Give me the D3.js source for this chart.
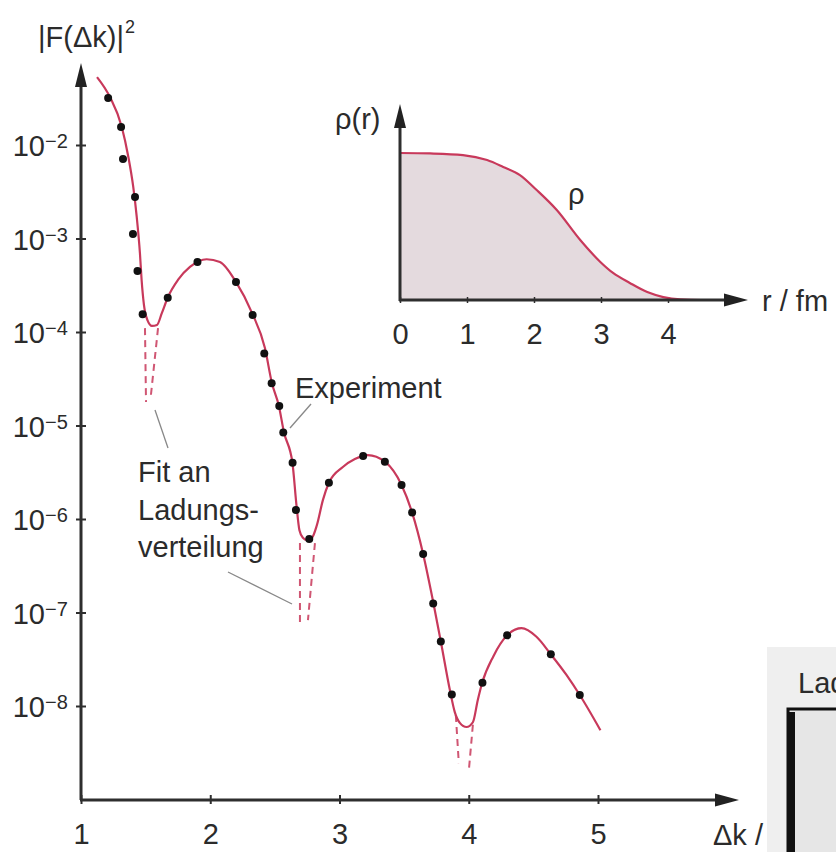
<!DOCTYPE html>
<html>
<head>
<meta charset="utf-8">
<script src="https://cdn.jsdelivr.net/npm/d3@7"></script>
<style>
body { margin: 0; background: #fff; }
text { font-family: "Liberation Sans", Arial, sans-serif; fill: #2b2b2b; }
</style>
</head>
<body>
<svg id="chart" width="836" height="852"></svg>
<script>
// measured points (Δk, |F|^2)
var dotK = [1.21, 1.31, 1.325, 1.418, 1.402, 1.437, 1.477, 1.671, 1.901, 2.199, 2.328,
  2.418, 2.475, 2.534, 2.565, 2.637, 2.663, 2.766, 2.918, 3.183, 3.351, 3.48, 3.562,
  3.647, 3.725, 3.784, 3.869, 4.106, 4.297, 4.635, 4.859];
var dotF = [3.18e-2, 1.56e-2, 7.1e-3, 2.78e-3, 1.12e-3, 4.5e-4, 1.55e-4, 2.33e-4, 5.6e-4,
  3.43e-4, 1.52e-4, 5.9e-5, 2.83e-5, 1.62e-5, 8.4e-6, 4.0e-6, 1.25e-6, 6.1e-7, 2.44e-6,
  4.72e-6, 4.1e-6, 2.31e-6, 1.17e-6, 4.23e-7, 1.25e-7, 4.9e-8, 1.33e-8, 1.77e-8, 5.7e-8,
  3.57e-8, 1.31e-8];

// solid curve
var curveK = [1.124, 1.224, 1.315, 1.366, 1.404, 1.431, 1.456, 1.469, 1.487, 1.514, 1.549,
  1.588, 1.626, 1.673, 1.75, 1.843, 1.972, 2.075, 2.199, 2.323, 2.423, 2.477, 2.531, 2.57,
  2.636, 2.667, 2.69, 2.717, 2.748, 2.787, 2.825, 2.872, 2.918, 3.026, 3.119, 3.219, 3.351,
  3.48, 3.562, 3.647, 3.722, 3.784, 3.854, 3.892, 3.931, 3.983, 4.032, 4.07, 4.104, 4.189,
  4.297, 4.408, 4.524, 4.635, 4.756, 4.859, 5.019];
var curveF = [5.33e-2, 3.26e-2, 1.57e-2, 7.5e-3, 3.58e-3, 1.71e-3, 6.95e-4, 3.6e-4, 1.95e-4,
  1.34e-4, 1.16e-4, 1.19e-4, 1.6e-4, 2.37e-4, 3.6e-4, 4.96e-4, 6.0e-4, 5.61e-4, 3.43e-4,
  1.6e-4, 6.74e-5, 2.85e-5, 1.62e-5, 8.5e-6, 3.97e-6, 1.41e-6, 7.6e-7, 6.3e-7, 5.96e-7,
  6.3e-7, 8.6e-7, 1.6e-6, 2.44e-6, 3.6e-6, 4.38e-6, 4.83e-6, 4.1e-6, 2.31e-6, 1.17e-6,
  4.23e-7, 1.36e-7, 4.9e-8, 1.48e-8, 8.6e-9, 6.6e-9, 5.96e-9, 6.7e-9, 1.16e-8, 1.77e-8,
  3.37e-8, 5.7e-8, 6.8e-8, 5.5e-8, 3.57e-8, 2.15e-8, 1.31e-8, 5.5e-9];

// dashed fit branches at the minima: [start, end]
var dipK = [[1.495, 1.503], [1.596, 1.541], [2.694, 2.694], [2.81, 2.756], [3.9, 3.923], [4.032, 4.001]];
var dipF = [[1.1e-4, 1.78e-5], [1.1e-4, 2.12e-5], [5.53e-7, 7.7e-8], [5.53e-7, 8.3e-8], [8.0e-9, 2.45e-9], [6.3e-9, 2.07e-9]];

var xTicks = [1, 2, 3, 4, 5];
var yTicks = [1e-2, 1e-3, 1e-4, 1e-5, 1e-6, 1e-7, 1e-8];
var yTickExp = ["−2", "−3", "−4", "−5", "−6", "−7", "−8"];

// inset charge density
var rhoR = [0, 0.45, 0.94, 1.3, 1.54, 1.79, 2.04, 2.34, 2.69, 2.99, 3.18, 3.43, 3.69, 3.93, 4.18, 4.5, 4.7];
var rhoV = [1, 0.997, 0.986, 0.952, 0.905, 0.85, 0.748, 0.612, 0.408, 0.259, 0.184, 0.116, 0.054, 0.02, 0.004, 0, 0];
var rTicks = [0, 1, 2, 3, 4];

var red = "#c8395b", ink = "#2e2e2e";
var svg = d3.select("#chart");

function arrow(g, x, y, dir, len, half) {
  var p = dir === "up"
    ? [[x, y], [x - half, y + len], [x + half, y + len]]
    : [[x, y], [x - len, y - half], [x - len, y + half]];
  g.append("path").attr("d", "M" + p.join("L") + "Z").attr("fill", "#222");
}

// ---- main chart ----
var x = d3.scaleLinear().domain([1, 5]).range([81, 598]);
var y = d3.scaleLog().domain([1e-2, 1e-8]).range([145, 706]);
var main = svg.append("g");

var xAxis = main.append("g").attr("transform", "translate(0,795)")
  .call(d3.axisBottom(x).tickValues(xTicks).tickSizeInner(9).tickSizeOuter(0).tickPadding(19).tickFormat(d3.format("d")));
xAxis.select(".domain").remove();
xAxis.selectAll("line").attr("stroke", ink).attr("stroke-width", 2);
xAxis.selectAll("text").attr("font-size", 29).attr("fill", ink)
  .style("font-family", '"Liberation Sans", Arial, sans-serif');

var yAxis = main.append("g").attr("transform", "translate(86,0)")
  .call(d3.axisLeft(y).tickValues(yTicks).tickSizeInner(10).tickSizeOuter(0).tickFormat(""));
yAxis.select(".domain").remove();
yAxis.selectAll("line").attr("stroke", ink).attr("stroke-width", 2);

var yl = main.append("g").selectAll("g").data(yTicks).join("g")
  .attr("transform", function(d) { return "translate(0," + y(d) + ")"; });
yl.append("text").attr("x", 45).attr("y", 11).attr("text-anchor", "end").attr("font-size", 29).text("10");
yl.append("text").attr("x", 45).attr("y", 3).attr("font-size", 20).text(function(d, i) { return yTickExp[i]; });

main.append("line").attr("x1", 81).attr("x2", 81).attr("y1", 800).attr("y2", 80)
  .attr("stroke", ink).attr("stroke-width", 3);
main.append("line").attr("x1", 80).attr("x2", 722).attr("y1", 800).attr("y2", 800)
  .attr("stroke", ink).attr("stroke-width", 3);
arrow(main, 81, 63, "up", 24, 6);
arrow(main, 739, 800, "right", 24, 6.5);

main.append("text").attr("x", 38).attr("y", 47).attr("font-size", 29).text("|F(Δk)|");
main.append("text").attr("x", 125).attr("y", 33).attr("font-size", 18).text("2");
main.append("text").attr("x", 713).attr("y", 845).attr("font-size", 29).text("Δk /");

// dashed fit branches
main.append("g").selectAll("line").data(dipK).join("line")
  .attr("x1", function(d) { return x(d[0]); })
  .attr("x2", function(d) { return x(d[1]); })
  .attr("y1", function(d, i) { return y(dipF[i][0]); })
  .attr("y2", function(d, i) { return y(dipF[i][1]); })
  .attr("stroke", red).attr("stroke-width", 2).attr("stroke-dasharray", "7,5").attr("opacity", 0.85);

var line = d3.line()
  .x(function(d, i) { return x(curveK[i]); })
  .y(function(d) { return y(d); })
  .curve(d3.curveMonotoneX);
main.append("path").datum(curveF).attr("d", line)
  .attr("fill", "none").attr("stroke", red).attr("stroke-width", 2.2);

main.append("g").selectAll("circle").data(dotF).join("circle")
  .attr("cx", function(d, i) { return x(dotK[i]); })
  .attr("cy", function(d) { return y(d); })
  .attr("r", 4).attr("fill", "#111");

// annotations
var note = main.append("g").attr("stroke", "#888").attr("stroke-width", 1.3);
note.append("line").attr("x1", 311).attr("y1", 404).attr("x2", 290).attr("y2", 428);
note.append("line").attr("x1", 155).attr("y1", 410).attr("x2", 168).attr("y2", 448);
note.append("line").attr("x1", 228).attr("y1", 572).attr("x2", 292).attr("y2", 604);
main.append("text").attr("x", 295).attr("y", 398).attr("font-size", 29).text("Experiment");
main.append("text").attr("x", 138).attr("y", 482).attr("font-size", 29).text("Fit an");
main.append("text").attr("x", 138).attr("y", 520).attr("font-size", 29).text("Ladungs-");
main.append("text").attr("x", 138).attr("y", 557).attr("font-size", 29).text("verteilung");

// ---- inset ----
var xi = d3.scaleLinear().domain([0, 4]).range([400, 668]);
var yi = d3.scaleLinear().domain([0, 1]).range([300, 153]);
var inset = svg.append("g");

inset.append("path").datum(rhoV)
  .attr("d", d3.area()
    .x(function(d, i) { return xi(rhoR[i]); })
    .y0(yi(0)).y1(function(d) { return yi(d); })
    .curve(d3.curveMonotoneX))
  .attr("fill", "#e4dade");

var ix = inset.append("g").attr("transform", "translate(0,297)")
  .call(d3.axisBottom(xi).tickValues(rTicks).tickSizeInner(6).tickSizeOuter(0).tickPadding(20).tickFormat(d3.format("d")));
ix.select(".domain").remove();
ix.selectAll("line").attr("stroke", ink).attr("stroke-width", 1.5);
ix.selectAll("text").attr("font-size", 29).attr("fill", ink)
  .style("font-family", '"Liberation Sans", Arial, sans-serif');

inset.append("path").datum(rhoV)
  .attr("d", d3.line()
    .x(function(d, i) { return xi(rhoR[i]); })
    .y(function(d) { return yi(d); })
    .curve(d3.curveMonotoneX))
  .attr("fill", "none").attr("stroke", red).attr("stroke-width", 2.2);

inset.append("line").attr("x1", 400).attr("x2", 400).attr("y1", 301).attr("y2", 120)
  .attr("stroke", ink).attr("stroke-width", 3);
inset.append("line").attr("x1", 399).attr("x2", 730).attr("y1", 300).attr("y2", 300)
  .attr("stroke", ink).attr("stroke-width", 3);
arrow(inset, 400, 104, "up", 24, 6);
arrow(inset, 748, 300, "right", 24, 6.5);

inset.append("text").attr("x", 335).attr("y", 129).attr("font-size", 29).text("ρ(r)");
inset.append("text").attr("x", 568).attr("y", 204).attr("font-size", 29).text("ρ");
inset.append("text").attr("x", 762).attr("y", 311).attr("font-size", 29).text("r / fm");

// ---- fragment of neighbouring figure (cut at the right edge, as in the scan) ----
var frag = svg.append("g");
frag.append("rect").attr("x", 767).attr("y", 647).attr("width", 80).attr("height", 220).attr("fill", "#efefef");
frag.append("text").attr("x", 798).attr("y", 693).attr("font-size", 29).attr("fill", "#222").text("Lad");
frag.append("rect").attr("x", 788).attr("y", 709).attr("width", 60).attr("height", 160)
  .attr("fill", "#e6e6e6").attr("stroke", "#111").attr("stroke-width", 3);
frag.append("rect").attr("x", 788).attr("y", 712).attr("width", 7).attr("height", 150).attr("fill", "#111");
</script>
</body>
</html>
